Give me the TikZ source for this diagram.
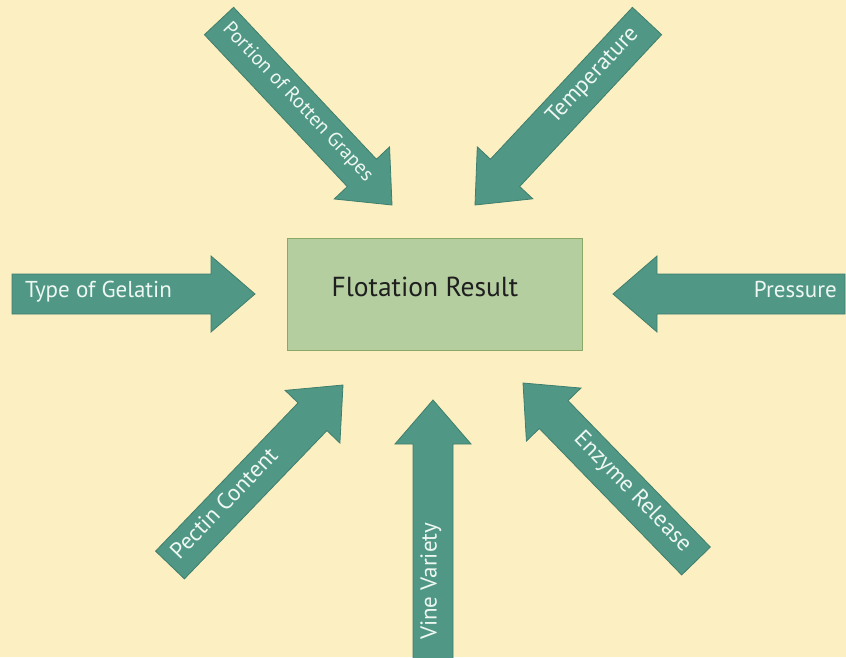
\documentclass[tikz,border=0pt]{standalone}
\usepackage{fontspec}
\setmainfont{PT Sans}
\usetikzlibrary{calc}
\definecolor{bg}{RGB}{252,240,194}
\definecolor{arrowfill}{RGB}{80,152,133}
\definecolor{arrowline}{RGB}{62,126,108}
\definecolor{boxfill}{RGB}{180,206,160}
\definecolor{boxline}{RGB}{140,168,102}
\definecolor{labtext}{RGB}{238,247,241}
% #1 tail, #2 tip, #3 label, #4 anchor at tail side, #5 offset from tail, #6 name prefix
\newcommand\fatarrow[6]{%
  \coordinate (#6b) at ($(#2)!44pt!(#1)$);
  \draw[fatarrowstyle] ($(#1)!20pt!90:(#2)$) -- ($(#6b)!20pt!90:(#2)$) -- ($(#6b)!38pt!90:(#2)$) -- (#2)
     -- ($(#6b)!38pt!-90:(#2)$) -- ($(#6b)!20pt!-90:(#2)$) -- ($(#1)!20pt!-90:(#2)$) -- cycle;
  \coordinate (#6s) at ($(#1)!#5pt!(#2)$);
  \path (#6s) -- (#2) node[pos=0, sloped, anchor=#4, labelstyle] (#6l) {#3};
}
\begin{document}
\begin{tikzpicture}[x=1pt,y=1pt,
  fatarrowstyle/.style={fill=arrowfill, draw=arrowline, line width=0.8pt, line join=miter},
  labelstyle/.style={text=labtext, font=\fontsize{23}{27}\selectfont, inner sep=0pt, text height=0.7em, text depth=0pt},
  smalllabel/.style={font=\fontsize{20}{24}\selectfont},
  boxstyle/.style={draw=boxline, fill=boxfill, line width=1pt, minimum width=295pt, minimum height=112pt, anchor=north west}]
\clip (0,0) rectangle (846,-657);
\fill[bg] (0,0) rectangle (846,-657);
\node[boxstyle] (box) at (287,-238) {};
\node[font=\fontsize{27.5}{32}\selectfont, text=black!88, inner sep=0pt, text height=0.7em, text depth=0pt] (boxlabel) at (425,-293) {Flotation Result};
% tails and tips
\coordinate (gelT) at (12,-294);   \coordinate (gelP) at (255,-294);
\coordinate (preT) at (845,-294);  \coordinate (preP) at (613,-294);
\coordinate (vinT) at (433,-662);  \coordinate (vinP) at (433,-400);
\coordinate (porT) at (219,-21);   \coordinate (porP) at (392,-205);
\coordinate (temT) at (647,-21);   \coordinate (temP) at (475,-205);
\coordinate (pecT) at (170,-565);  \coordinate (pecP) at (343,-385);
\coordinate (enzT) at (696,-561);  \coordinate (enzP) at (523,-383);
\fatarrow{gelT}{gelP}{Type of Gelatin}{west}{13}{gel}
\fatarrow{preT}{preP}{Pressure}{east}{8}{pre}
\fatarrow{vinT}{vinP}{Vine Variety}{west}{22}{vin}
\fatarrow{porT}{porP}{\fontsize{20}{24}\selectfont Portion of Rotten Grapes}{west}{8}{por}
\fatarrow{temT}{temP}{Temperature}{east}{15}{tem}
\fatarrow{pecT}{pecP}{Pectin Content}{west}{10}{pec}
\fatarrow{enzT}{enzP}{Enzyme Release}{east}{15}{enz}
\end{tikzpicture}
\end{document}
